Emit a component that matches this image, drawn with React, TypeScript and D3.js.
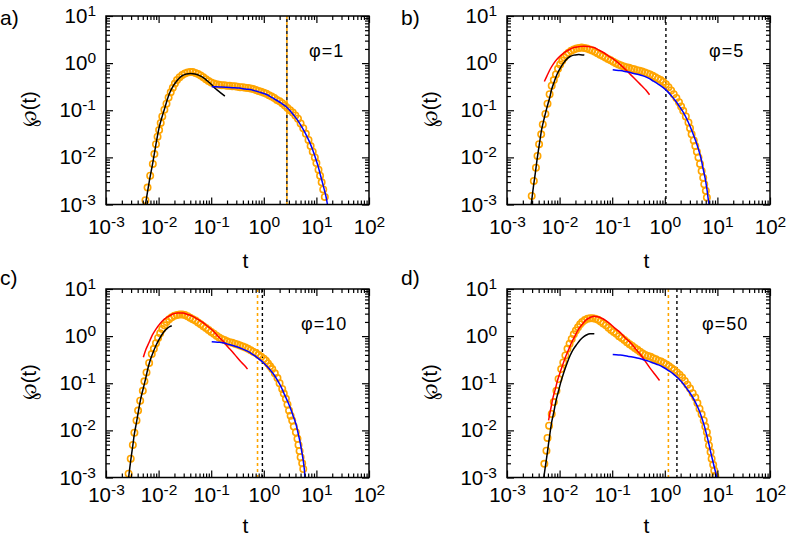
import React, { useRef, useEffect } from "react";
import * as d3 from "d3";

// all points are [log10 t, log10 ℘(t)]
const circlesA = [
  [-2.25, -2.91], [-2.21, -2.64], [-2.16, -2.39], [-2.11, -2.14], [-2.08, -1.93], [-2.05, -1.72],
  [-2.02, -1.56], [-1.99, -1.42], [-1.96, -1.27], [-1.93, -1.13], [-1.89, -0.99], [-1.85, -0.86],
  [-1.81, -0.73], [-1.77, -0.62], [-1.73, -0.52], [-1.69, -0.43], [-1.65, -0.36], [-1.6, -0.3],
  [-1.55, -0.25], [-1.5, -0.22], [-1.45, -0.2], [-1.4, -0.19], [-1.35, -0.19], [-1.3, -0.21],
  [-1.25, -0.23], [-1.2, -0.26], [-1.15, -0.3], [-1.1, -0.34], [-1.05, -0.38], [-1.0, -0.41],
  [-0.95, -0.43], [-0.9, -0.45], [-0.85, -0.46], [-0.8, -0.47], [-0.75, -0.47], [-0.7, -0.48],
  [-0.65, -0.48], [-0.6, -0.49], [-0.55, -0.49], [-0.5, -0.5], [-0.45, -0.51], [-0.4, -0.51],
  [-0.35, -0.52], [-0.3, -0.53], [-0.25, -0.54], [-0.2, -0.55], [-0.15, -0.57], [-0.1, -0.59],
  [-0.05, -0.61], [0.0, -0.63], [0.05, -0.65], [0.1, -0.68], [0.15, -0.71], [0.2, -0.74],
  [0.25, -0.78], [0.3, -0.81], [0.35, -0.85], [0.4, -0.9], [0.45, -0.95], [0.5, -1.0],
  [0.55, -1.05], [0.6, -1.11], [0.65, -1.18], [0.7, -1.28], [0.75, -1.38], [0.8, -1.5],
  [0.85, -1.63], [0.89, -1.76], [0.93, -1.88], [0.97, -2.0], [1.0, -2.12], [1.04, -2.26],
  [1.07, -2.39], [1.1, -2.53], [1.13, -2.68], [1.16, -2.84],
];
const blackA = [
  [-2.25, -3.0], [-2.18, -2.53], [-2.11, -2.11], [-2.05, -1.72], [-1.99, -1.37], [-1.94, -1.16],
  [-1.89, -0.98], [-1.8, -0.66], [-1.73, -0.5], [-1.67, -0.4], [-1.6, -0.31], [-1.54, -0.26],
  [-1.47, -0.23], [-1.39, -0.22], [-1.31, -0.23], [-1.23, -0.26], [-1.15, -0.31], [-1.07, -0.38],
  [-0.99, -0.46], [-0.91, -0.55], [-0.82, -0.63], [-0.74, -0.7],
];
const blueA = [
  [-0.99, -0.5], [-0.85, -0.505], [-0.72, -0.51], [-0.6, -0.52], [-0.47, -0.53], [-0.35, -0.55],
  [-0.22, -0.57], [-0.1, -0.61], [0.04, -0.66], [0.14, -0.72], [0.23, -0.78], [0.33, -0.85],
  [0.42, -0.92], [0.5, -1.01], [0.58, -1.12], [0.66, -1.24], [0.73, -1.37], [0.8, -1.51],
  [0.86, -1.65], [0.92, -1.81], [0.97, -1.97], [1.03, -2.18], [1.08, -2.39], [1.13, -2.6],
  [1.18, -2.82], [1.21, -3.0],
];

const circlesB = [
  [-2.53, -2.82], [-2.49, -2.5], [-2.45, -2.22], [-2.42, -1.97], [-2.39, -1.72], [-2.35, -1.51],
  [-2.32, -1.3], [-2.27, -1.08], [-2.23, -0.86], [-2.19, -0.66], [-2.15, -0.48], [-2.11, -0.36],
  [-2.07, -0.24], [-2.03, -0.12], [-1.99, -0.03], [-1.95, 0.05], [-1.91, 0.12], [-1.87, 0.18],
  [-1.83, 0.22], [-1.78, 0.26], [-1.73, 0.29], [-1.68, 0.31], [-1.63, 0.32], [-1.58, 0.33],
  [-1.53, 0.32], [-1.48, 0.31], [-1.43, 0.29], [-1.38, 0.27], [-1.33, 0.24], [-1.28, 0.21],
  [-1.23, 0.18], [-1.18, 0.15], [-1.13, 0.12], [-1.08, 0.09], [-1.03, 0.06], [-0.98, 0.03],
  [-0.93, 0.0], [-0.88, -0.03], [-0.83, -0.05], [-0.78, -0.07], [-0.73, -0.09], [-0.68, -0.1],
  [-0.63, -0.12], [-0.58, -0.13], [-0.53, -0.15], [-0.48, -0.16], [-0.43, -0.18], [-0.38, -0.2],
  [-0.33, -0.22], [-0.28, -0.24], [-0.23, -0.27], [-0.18, -0.3], [-0.13, -0.33], [-0.08, -0.36],
  [-0.03, -0.4], [0.02, -0.45], [0.07, -0.51], [0.12, -0.58], [0.17, -0.66], [0.22, -0.74],
  [0.27, -0.83], [0.31, -0.92], [0.35, -1.01], [0.4, -1.13], [0.45, -1.26], [0.48, -1.38],
  [0.51, -1.51], [0.55, -1.64], [0.58, -1.76], [0.61, -1.88], [0.64, -2.0], [0.67, -2.14],
  [0.7, -2.29], [0.73, -2.43], [0.75, -2.57], [0.78, -2.71], [0.8, -2.85],
];
const blackB = [
  [-2.54, -3.0], [-2.5, -2.64], [-2.46, -2.32], [-2.43, -2.06], [-2.4, -1.83], [-2.37, -1.61],
  [-2.34, -1.4], [-2.29, -1.16], [-2.24, -0.94], [-2.19, -0.74], [-2.15, -0.55], [-2.1, -0.39],
  [-2.05, -0.24], [-1.99, -0.11], [-1.92, 0.01], [-1.86, 0.09], [-1.8, 0.14], [-1.73, 0.17],
  [-1.67, 0.18], [-1.6, 0.18], [-1.53, 0.17],
];
const redB = [
  [-2.29, -0.39], [-2.24, -0.27], [-2.18, -0.13], [-2.12, -0.02], [-2.05, 0.08], [-1.97, 0.17],
  [-1.89, 0.24], [-1.81, 0.29], [-1.73, 0.33], [-1.64, 0.35], [-1.54, 0.36], [-1.45, 0.35],
  [-1.35, 0.33], [-1.26, 0.28], [-1.16, 0.22], [-1.07, 0.15], [-0.97, 0.08], [-0.88, 0.0],
  [-0.78, -0.1], [-0.69, -0.2], [-0.59, -0.31], [-0.51, -0.4], [-0.44, -0.48], [-0.36, -0.57],
  [-0.29, -0.67],
];
const blueB = [
  [-0.99, -0.14], [-0.88, -0.155], [-0.78, -0.17], [-0.69, -0.19], [-0.59, -0.22], [-0.5, -0.24],
  [-0.41, -0.27], [-0.31, -0.32], [-0.22, -0.38], [-0.12, -0.45], [-0.03, -0.52], [0.05, -0.6],
  [0.13, -0.7], [0.21, -0.81], [0.29, -0.94], [0.36, -1.06], [0.42, -1.19], [0.48, -1.34],
  [0.54, -1.51], [0.59, -1.66], [0.64, -1.83], [0.69, -2.03], [0.73, -2.25], [0.77, -2.46],
  [0.8, -2.67], [0.82, -2.84], [0.84, -3.0],
];

const circlesC = [
  [-2.57, -2.92], [-2.53, -2.6], [-2.49, -2.31], [-2.46, -2.05], [-2.42, -1.79], [-2.39, -1.58],
  [-2.35, -1.37], [-2.3, -1.16], [-2.27, -0.96], [-2.23, -0.77], [-2.18, -0.57], [-2.13, -0.38],
  [-2.09, -0.27], [-2.05, -0.15], [-2.01, -0.04], [-1.97, 0.06], [-1.93, 0.15], [-1.89, 0.23],
  [-1.85, 0.3], [-1.8, 0.36], [-1.75, 0.4], [-1.7, 0.43], [-1.65, 0.45], [-1.6, 0.46],
  [-1.55, 0.46], [-1.5, 0.45], [-1.45, 0.42], [-1.4, 0.39], [-1.35, 0.36], [-1.3, 0.33],
  [-1.25, 0.29], [-1.2, 0.25], [-1.15, 0.21], [-1.1, 0.17], [-1.05, 0.13], [-1.0, 0.09],
  [-0.95, 0.05], [-0.9, 0.01], [-0.85, -0.03], [-0.8, -0.06], [-0.75, -0.08], [-0.7, -0.11],
  [-0.65, -0.13], [-0.6, -0.14], [-0.55, -0.16], [-0.5, -0.18], [-0.45, -0.2], [-0.4, -0.22],
  [-0.35, -0.24], [-0.3, -0.27], [-0.25, -0.3], [-0.2, -0.33], [-0.15, -0.36], [-0.1, -0.4],
  [-0.05, -0.44], [0.0, -0.48], [0.04, -0.52], [0.08, -0.58], [0.12, -0.64], [0.16, -0.7],
  [0.21, -0.79], [0.26, -0.89], [0.3, -1.0], [0.35, -1.12], [0.38, -1.22], [0.42, -1.33],
  [0.45, -1.45], [0.48, -1.58], [0.51, -1.69], [0.54, -1.79], [0.57, -1.92], [0.61, -2.04],
  [0.64, -2.18], [0.66, -2.31], [0.68, -2.44], [0.7, -2.57], [0.73, -2.7], [0.75, -2.82],
];
const blackC = [
  [-2.57, -3.0], [-2.53, -2.64], [-2.49, -2.32], [-2.46, -2.07], [-2.42, -1.83], [-2.38, -1.57],
  [-2.34, -1.33], [-2.29, -1.1], [-2.24, -0.87], [-2.2, -0.67], [-2.15, -0.48], [-2.1, -0.33],
  [-2.05, -0.2], [-1.99, -0.07], [-1.92, 0.06], [-1.87, 0.13], [-1.83, 0.17], [-1.79, 0.2],
  [-1.75, 0.22],
];
const redC = [
  [-2.29, -0.45], [-2.24, -0.28], [-2.18, -0.13], [-2.12, 0.02], [-2.05, 0.15], [-1.97, 0.27],
  [-1.89, 0.36], [-1.81, 0.42], [-1.73, 0.47], [-1.64, 0.49], [-1.54, 0.49], [-1.45, 0.46],
  [-1.35, 0.42], [-1.26, 0.36], [-1.16, 0.29], [-1.07, 0.21], [-0.97, 0.12], [-0.88, 0.01],
  [-0.78, -0.1], [-0.69, -0.22], [-0.59, -0.34], [-0.51, -0.45], [-0.44, -0.54], [-0.37, -0.62],
  [-0.31, -0.7],
];
const blueC = [
  [-0.99, -0.12], [-0.88, -0.13], [-0.78, -0.14], [-0.69, -0.17], [-0.59, -0.2], [-0.5, -0.23],
  [-0.41, -0.27], [-0.31, -0.32], [-0.22, -0.38], [-0.12, -0.46], [-0.03, -0.54], [0.05, -0.63],
  [0.13, -0.73], [0.2, -0.83], [0.26, -0.94], [0.33, -1.08], [0.39, -1.23], [0.45, -1.38],
  [0.51, -1.54], [0.56, -1.7], [0.61, -1.86], [0.65, -2.05], [0.69, -2.25], [0.72, -2.44],
  [0.75, -2.64], [0.77, -2.82], [0.78, -3.0],
];

const circlesD = [
  [-2.29, -2.71], [-2.25, -2.43], [-2.23, -2.16], [-2.2, -1.9], [-2.15, -1.65], [-2.11, -1.4],
  [-2.06, -1.16], [-2.02, -0.91], [-1.97, -0.7], [-1.93, -0.56], [-1.89, -0.41], [-1.85, -0.27],
  [-1.81, -0.16], [-1.77, -0.06], [-1.73, 0.04], [-1.69, 0.12], [-1.65, 0.19], [-1.61, 0.25],
  [-1.57, 0.3], [-1.52, 0.34], [-1.47, 0.37], [-1.42, 0.38], [-1.37, 0.38], [-1.32, 0.37],
  [-1.27, 0.35], [-1.22, 0.31], [-1.17, 0.27], [-1.12, 0.23], [-1.07, 0.18], [-1.02, 0.13],
  [-0.97, 0.09], [-0.92, 0.05], [-0.87, 0.0], [-0.82, -0.04], [-0.77, -0.08], [-0.72, -0.13],
  [-0.67, -0.17], [-0.62, -0.21], [-0.57, -0.25], [-0.52, -0.29], [-0.47, -0.33], [-0.42, -0.37],
  [-0.37, -0.4], [-0.32, -0.42], [-0.27, -0.44], [-0.22, -0.47], [-0.17, -0.49], [-0.12, -0.52],
  [-0.07, -0.54], [-0.02, -0.57], [0.03, -0.6], [0.08, -0.64], [0.13, -0.68], [0.18, -0.72],
  [0.23, -0.77], [0.28, -0.82], [0.33, -0.88], [0.38, -0.95], [0.43, -1.03], [0.48, -1.11],
  [0.53, -1.21], [0.58, -1.3], [0.62, -1.42], [0.66, -1.54], [0.7, -1.66], [0.74, -1.79],
  [0.77, -1.92], [0.8, -2.04], [0.82, -2.18], [0.84, -2.32], [0.87, -2.46], [0.89, -2.6],
  [0.92, -2.73], [0.94, -2.85], [0.96, -2.97],
];
const blackD = [
  [-2.3, -3.0], [-2.27, -2.76], [-2.24, -2.53], [-2.21, -2.28], [-2.18, -2.04], [-2.15, -1.82],
  [-2.11, -1.61], [-2.07, -1.38], [-2.02, -1.16], [-1.97, -0.95], [-1.92, -0.77], [-1.86, -0.58],
  [-1.8, -0.41], [-1.74, -0.28], [-1.67, -0.17], [-1.61, -0.08], [-1.54, -0.01], [-1.48, 0.03],
  [-1.42, 0.05], [-1.34, 0.05],
];
const redD = [
  [-2.21, -1.79], [-2.18, -1.61], [-2.15, -1.44], [-2.12, -1.28], [-2.08, -1.12], [-2.04, -0.94],
  [-1.99, -0.77], [-1.94, -0.61], [-1.89, -0.45], [-1.83, -0.29], [-1.77, -0.13], [-1.7, 0.02],
  [-1.64, 0.15], [-1.57, 0.25], [-1.51, 0.33], [-1.43, 0.39], [-1.35, 0.42], [-1.28, 0.41],
  [-1.2, 0.38], [-1.12, 0.33], [-1.04, 0.26], [-0.95, 0.17], [-0.85, 0.08], [-0.76, -0.03],
  [-0.66, -0.13], [-0.57, -0.25], [-0.47, -0.38], [-0.38, -0.52], [-0.28, -0.68], [-0.19, -0.81],
  [-0.1, -0.94],
];
const blueD = [
  [-0.99, -0.39], [-0.88, -0.4], [-0.78, -0.41], [-0.69, -0.43], [-0.59, -0.45], [-0.5, -0.47],
  [-0.41, -0.5], [-0.31, -0.53], [-0.22, -0.57], [-0.12, -0.61], [-0.03, -0.66], [0.07, -0.73],
  [0.16, -0.8], [0.26, -0.9], [0.35, -1.01], [0.43, -1.13], [0.51, -1.26], [0.58, -1.4],
  [0.64, -1.54], [0.7, -1.72], [0.75, -1.9], [0.79, -2.07], [0.83, -2.25], [0.87, -2.45],
  [0.91, -2.64], [0.95, -2.82], [0.99, -3.0],
];

// vertical dotted markers (t values)
const markerOrange = [2.75, null, 0.76, 1.17];
const markerBlack = [2.75, 1.05, 0.94, 1.7];

const tags = ["a)", "b)", "c)", "d)"];
const phiLabels = ["φ=1", "φ=5", "φ=10", "φ=50"];
const xTickExp = [-3, -2, -1, 0, 1, 2];
const yTickExp = [-3, -2, -1, 0, 1];

const panels = [
  { circles: circlesA, black: blackA, red: null, blue: blueA },
  { circles: circlesB, black: blackB, red: redB, blue: blueB },
  { circles: circlesC, black: blackC, red: redC, blue: blueC },
  { circles: circlesD, black: blackD, red: redD, blue: blueD },
];

// layout (pixels)
const layout = [
  { left: 106, top: 16, tagX: 0, tagY: 25, phiX: 309, phiY: 57, tickDy: 29, tDy: 63 },
  { left: 507, top: 16, tagX: 401, tagY: 25, phiX: 709, phiY: 57, tickDy: 29, tDy: 63 },
  { left: 106, top: 289, tagX: 0, tagY: 285, phiX: 301, phiY: 330, tickDy: 24, tDy: 55 },
  { left: 507, top: 289, tagX: 401, tagY: 285, phiX: 702, phiY: 330, tickDy: 24, tDy: 55 },
];
const plotW = 263;
const plotH = 188.5;
const FONT = "'Liberation Sans', Arial, Helvetica, sans-serif";
const ORANGE = "#ffa500";

export default function App() {
  const svgRef = useRef<SVGSVGElement>(null);

  useEffect(() => {
    const svg = d3.select(svgRef.current);
    svg.selectAll("*").remove();
    svg.append("rect").attr("width", 787).attr("height", 546).attr("fill", "#fff");

    panels.forEach((p, i) => {
      const L = layout[i];
      const g = svg.append("g").attr("transform", `translate(${L.left},${L.top})`);

      const x = d3.scaleLog().domain([1e-3, 1e2]).range([0, plotW]);
      const y = d3.scaleLog().domain([1e-3, 1e1]).range([plotH, 0]);
      const px = (d: number[]) => x(Math.pow(10, d[0]));
      const py = (d: number[]) => y(Math.pow(10, d[1]));

      const clipId = `clip-${i}`;
      g.append("clipPath").attr("id", clipId)
        .append("rect").attr("width", plotW).attr("height", plotH);
      const plot = g.append("g").attr("clip-path", `url(#${clipId})`);

      // vertical dotted markers
      if (markerOrange[i] != null) {
        plot.append("line")
          .attr("x1", x(markerOrange[i] as number)).attr("x2", x(markerOrange[i] as number))
          .attr("y1", 0).attr("y2", plotH)
          .attr("stroke", ORANGE).attr("stroke-width", 1.6).attr("stroke-dasharray", "3,3");
      }
      plot.append("line")
        .attr("x1", x(markerBlack[i])).attr("x2", x(markerBlack[i]))
        .attr("y1", 0).attr("y2", plotH)
        .attr("stroke", "#000").attr("stroke-width", 1.4)
        .attr("stroke-dasharray", "3,3")
        .attr("stroke-dashoffset", markerOrange[i] === markerBlack[i] ? 3 : 0);

      // data circles
      plot.selectAll("circle.pt")
        .data(p.circles)
        .join("circle")
        .attr("class", "pt")
        .attr("cx", px).attr("cy", py)
        .attr("r", 3.2)
        .attr("fill", "none")
        .attr("stroke", ORANGE)
        .attr("stroke-width", 1.6);

      const line = d3.line<number[]>().x(px).y(py).curve(d3.curveCatmullRom);
      const curves: [number[][] | null, string][] = [
        [p.black, "#000"], [p.red, "#ff0000"], [p.blue, "#0000ff"],
      ];
      curves.forEach(([data, color]) => {
        if (!data) return;
        plot.append("path").datum(data)
          .attr("d", line)
          .attr("fill", "none").attr("stroke", color).attr("stroke-width", 1.5);
      });

      // ticks: major & minor, inward on all four sides
      const xAll = x.ticks();
      const yAll = y.ticks();
      const isMajor = (v: number) => Math.abs(Math.log10(v) - Math.round(Math.log10(v))) < 1e-9;
      const xMajor = xAll.filter(isMajor);
      const xMinor = xAll.filter((v) => !isMajor(v));
      const yMajor = yAll.filter(isMajor);
      const yMinor = yAll.filter((v) => !isMajor(v));
      const blank = () => "";

      const addAxis = (axis: any, tr: string) =>
        g.append("g").attr("transform", tr).call(axis)
          .call((s: any) => s.select(".domain").remove())
          .call((s: any) => s.selectAll(".tick line").attr("stroke", "#000").attr("stroke-width", 1.2));

      addAxis(d3.axisBottom(x).tickValues(xMinor).tickSize(-4).tickFormat(blank), `translate(0,${plotH})`);
      addAxis(d3.axisTop(x).tickValues(xMinor).tickSize(-4).tickFormat(blank), "translate(0,0)");
      addAxis(d3.axisTop(x).tickValues(xMajor).tickSize(-7).tickFormat(blank), "translate(0,0)");
      addAxis(d3.axisLeft(y).tickValues(yMinor).tickSize(-4).tickFormat(blank), "translate(0,0)");
      addAxis(d3.axisRight(y).tickValues(yMinor).tickSize(-4).tickFormat(blank), `translate(${plotW},0)`);
      addAxis(d3.axisRight(y).tickValues(yMajor).tickSize(-7).tickFormat(blank), `translate(${plotW},0)`);

      const bottom = addAxis(
        d3.axisBottom(x).tickValues(xTickExp.map((e) => Math.pow(10, e))).tickSize(-7).tickPadding(L.tickDy - 14),
        `translate(0,${plotH})`
      );
      const left = addAxis(
        d3.axisLeft(y).tickValues(yTickExp.map((e) => Math.pow(10, e))).tickSize(-7).tickPadding(10),
        "translate(0,0)"
      );
      [bottom, left].forEach((ax) => {
        ax.attr("font-family", FONT).attr("font-size", 20.5);
        ax.selectAll(".tick text").each(function (d: any) {
          const t = d3.select(this);
          const e = Math.round(Math.log10(d));
          t.text(null).attr("fill", "#000");
          t.append("tspan").text("10");
          t.append("tspan").attr("dy", -7).attr("font-size", 15.5).text(String(e));
        });
      });

      // frame
      g.append("rect").attr("width", plotW).attr("height", plotH)
        .attr("fill", "none").attr("stroke", "#000").attr("stroke-width", 1.5);

      // axis titles
      g.append("text")
        .attr("x", plotW / 2 + 8).attr("y", plotH + L.tDy)
        .attr("text-anchor", "middle").attr("font-family", FONT).attr("font-size", 21)
        .text("t");
      g.append("text")
        .attr("transform", `translate(-70,${plotH / 2 - 1}) rotate(-90)`)
        .attr("text-anchor", "middle").attr("font-family", FONT).attr("font-size", 20)
        .text("℘(t)");

      // panel labels
      svg.append("text").attr("x", L.tagX).attr("y", L.tagY)
        .attr("font-family", FONT).attr("font-size", 21).text(tags[i]);
      svg.append("text").attr("x", L.phiX).attr("y", L.phiY)
        .attr("font-family", FONT).attr("font-size", 18).attr("letter-spacing", 1)
        .text(phiLabels[i]);
    });
  }, []);

  return (
    <svg
      ref={svgRef}
      width={787}
      height={546}
      style={{ position: "absolute", left: 0, top: 0 }}
    />
  );
}
